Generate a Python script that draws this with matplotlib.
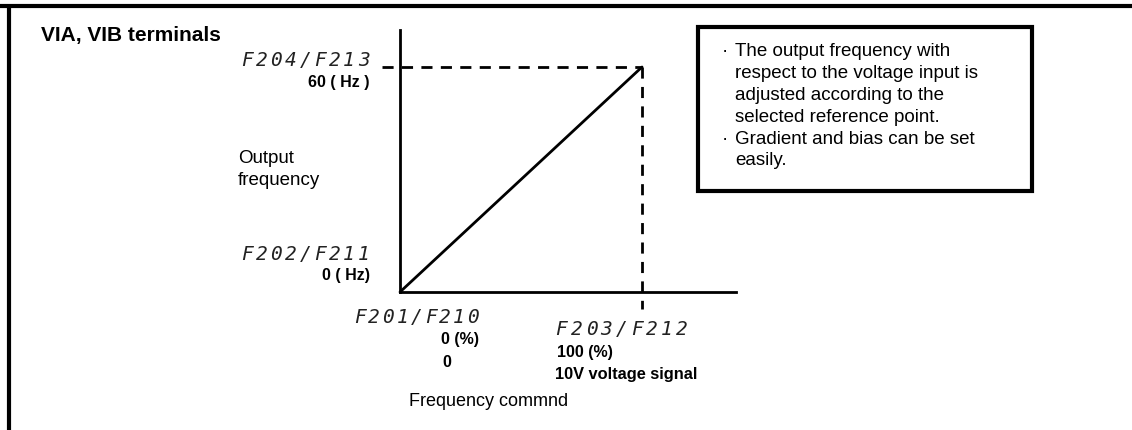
"""VIA/VIB terminals: output frequency vs. frequency command (reference point setting)."""
import matplotlib
matplotlib.use("Agg")
import matplotlib.pyplot as plt
from matplotlib.patches import Rectangle

# data
freq_command = [0, 100]      # (%)
output_freq = [0, 60]        # (Hz)

W, H = 1132, 431
SANS = ["Liberation Sans", "DejaVu Sans"]
SEG = dict(family="DejaVu Sans Mono", style="oblique", fontsize=14, color="#222222")

box_lines = [
    ("\u00b7", "The output frequency with"),
    ("", "respect to the voltage input is"),
    ("", "adjusted according to the"),
    ("", "selected reference point."),
    ("\u00b7", "Gradient and bias can be set"),
    ("", "easily."),
]


def seg_text(ax, left, right, y, s):
    # spread the characters like a 7-segment display readout
    pitch = (right - left) / len(s)
    for i, ch in enumerate(s):
        ax.text(left + (i + 0.5) * pitch, y, ch, ha="center", va="center", **SEG)


def main():
    plt.rcParams["font.family"] = SANS
    fig = plt.figure(figsize=(W / 100, H / 100), dpi=100)
    fig.patch.set_facecolor("white")

    # overlay in pixel coordinates for frame and labels
    ov = fig.add_axes([0, 0, 1, 1])
    ov.set_xlim(0, W)
    ov.set_ylim(H, 0)
    ov.axis("off")

    ov.plot([0, W], [7, 7], color="black", lw=3, solid_capstyle="butt")
    ov.plot([9, 9], [7, H], color="black", lw=3, solid_capstyle="butt")

    ov.text(41, 35, "VIA, VIB terminals", fontsize=15, fontweight="bold", va="center", ha="left")

    # y-side labels
    seg_text(ov, 240, 371, 60, "F204/F213")
    ov.text(370, 82, "60 ( Hz )", ha="right", va="center", fontsize=11.5, fontweight="bold")
    ov.text(238, 159, "Output", ha="left", va="center", fontsize=13.5)
    ov.text(238, 181, "frequency", ha="left", va="center", fontsize=13.5)
    seg_text(ov, 240, 371, 255, "F202/F211")
    ov.text(370, 276, "0 ( Hz)", ha="right", va="center", fontsize=11.5, fontweight="bold")

    # x-side labels
    seg_text(ov, 353, 480, 318, "F201/F210")
    ov.text(441, 340, "0 (%)", ha="left", va="center", fontsize=11.5, fontweight="bold")
    ov.text(442, 363, "0", ha="left", va="center", fontsize=11.5, fontweight="bold")
    seg_text(ov, 554, 689, 330, "F203/F212")
    ov.text(557, 353, "100 (%)", ha="left", va="center", fontsize=11.5, fontweight="bold")
    ov.text(555, 375, "10V voltage signal", ha="left", va="center", fontsize=11.8, fontweight="bold")
    ov.text(409, 402, "Frequency commnd", ha="left", va="center", fontsize=13)

    # explanation box
    ov.add_patch(Rectangle((698, 28), 334, 164, fill=False, edgecolor="black", lw=3))
    for i, (bullet, line) in enumerate(box_lines):
        y = 52 + i * 21.8
        if bullet:
            ov.text(722, y, bullet, ha="left", va="center", fontsize=13.5)
        ov.text(735, y, line, ha="left", va="center", fontsize=13.5)

    # the characteristic itself, in data units
    x0, x100 = 400, 642
    y0, y60 = 293, 68
    px_x = (x100 - x0) / freq_command[-1]
    px_y = (y0 - y60) / output_freq[-1]
    ax = fig.add_axes([x0 / W, (H - y0) / H, (736 - x0) / W, (y0 - 31) / H])
    ax.set_xlim(0, (736 - x0) / px_x)
    ax.set_ylim(0, (y0 - 31) / px_y)
    ax.patch.set_alpha(0)
    for side in ("top", "right"):
        ax.spines[side].set_visible(False)
    for side in ("left", "bottom"):
        ax.spines[side].set_linewidth(2)
    ax.set_xticks([])
    ax.set_yticks([])

    ax.plot(freq_command, output_freq, color="black", lw=2, solid_capstyle="round", clip_on=False)
    ax.plot([-(x0 - 382) / px_x, freq_command[-1]], [output_freq[-1]] * 2,
            color="black", lw=2, ls=(0, (4, 3)), clip_on=False)
    ax.plot([freq_command[-1]] * 2, [output_freq[-1], -(310 - y0) / px_y],
            color="black", lw=2, ls=(0, (4, 3)), clip_on=False)

    fig.savefig("out.png", dpi=100, facecolor="white")


if __name__ == "__main__":
    main()
